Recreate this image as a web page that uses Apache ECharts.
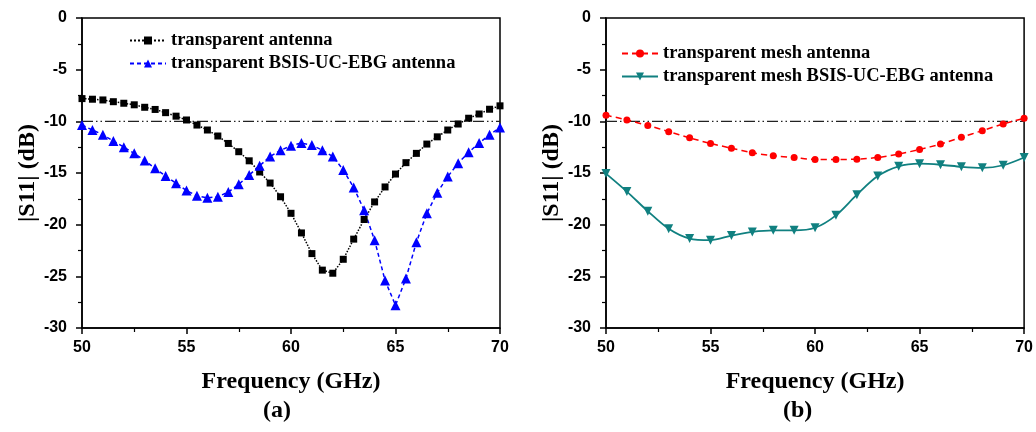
<!DOCTYPE html>
<html>
<head>
<meta charset="utf-8">
<script src="https://cdn.jsdelivr.net/npm/echarts@6/dist/echarts.min.js"></script>
<style>
html, body { margin: 0; padding: 0; background: #fff; }
#main { width: 1036px; height: 432px; }
</style>
</head>
<body>
<div id="main"></div>
<script>
// frequency points (GHz)
var freq_a = [50, 50.5, 51, 51.5, 52, 52.5, 53, 53.5, 54, 54.5, 55, 55.5, 56, 56.5, 57, 57.5, 58, 58.5, 59, 59.5,
	60, 60.5, 61, 61.5, 62, 62.5, 63, 63.5, 64, 64.5, 65, 65.5, 66, 66.5, 67, 67.5, 68, 68.5, 69, 69.5, 70];
var freq_b = [50, 51, 52, 53, 54, 55, 56, 57, 58, 59, 60, 61, 62, 63, 64, 65, 66, 67, 68, 69, 70];

// |S11| (dB)
var trans_ant = [-7.8, -7.86, -7.93, -8.1, -8.25, -8.4, -8.64, -8.85, -9.16, -9.5, -9.87, -10.36, -10.84, -11.42, -12.14, -12.94, -13.82, -14.9, -15.97, -17.3,
	-18.9, -20.8, -22.8, -24.4, -24.7, -23.35, -21.4, -19.5, -17.8, -16.35, -15.1, -14.0, -13.1, -12.2, -11.5, -10.84, -10.26, -9.7, -9.29, -8.83, -8.5];
var trans_ebg = [-10.36, -10.84, -11.3, -11.9, -12.5, -13.1, -13.8, -14.55, -15.3, -16.0, -16.7, -17.2, -17.4, -17.3, -16.85, -16.1, -15.2, -14.3, -13.4, -12.8,
	-12.36, -12.1, -12.3, -12.8, -13.4, -14.7, -16.4, -18.6, -21.5, -25.4, -27.8, -25.2, -21.7, -18.9, -16.9, -15.35, -14.05, -13.0, -12.1, -11.3, -10.6];
var mesh_ant = [-9.4, -9.87, -10.4, -11.0, -11.6, -12.14, -12.6, -13.04, -13.33, -13.5, -13.69, -13.69, -13.66, -13.5, -13.17, -12.72, -12.2, -11.55, -10.9, -10.26, -9.7];
var mesh_ebg = [-15.06, -16.8, -18.7, -20.4, -21.35, -21.5, -21.06, -20.7, -20.55, -20.55, -20.3, -19.1, -17.1, -15.3, -14.35, -14.1, -14.2, -14.4, -14.5, -14.25, -13.5];

var x_ticks = [50, 55, 60, 65, 70];
var y_ticks = [0, -5, -10, -15, -20, -25, -30];
var ref_level = -10;

function pairs(xs, ys) {
	var out = [];
	for (var i = 0; i < xs.length; i++) {
		out.push([xs[i], ys[i]]);
	}
	return out;
}

var serif = 'Liberation Serif';
var sans = 'Liberation Sans';

function makeX(idx) {
	return {
		gridIndex: idx,
		type: 'value',
		min: x_ticks[0],
		max: x_ticks[x_ticks.length - 1],
		interval: 5,
		name: 'Frequency (GHz)',
		nameLocation: 'middle',
		nameGap: 42,
		nameTextStyle: {fontFamily: serif, fontWeight: 'bold', fontSize: 24, color: '#000'},
		axisLine: {onZero: false, lineStyle: {color: '#000', width: 1.5}},
		axisTick: {show: true, inside: false, length: 6, lineStyle: {color: '#000', width: 1.5}},
		minorTick: {show: true, splitNumber: 2, length: 4, lineStyle: {color: '#000', width: 1.2}},
		axisLabel: {fontFamily: sans, fontWeight: 'bold', fontSize: 16, color: '#000', margin: 12},
		splitLine: {show: false}
	};
}

function makeY(idx) {
	return {
		gridIndex: idx,
		type: 'value',
		min: y_ticks[y_ticks.length - 1],
		max: y_ticks[0],
		interval: 5,
		name: '|S11| (dB)',
		nameLocation: 'middle',
		nameGap: 42,
		nameTextStyle: {fontFamily: serif, fontWeight: 'bold', fontSize: 24, color: '#000'},
		axisLine: {onZero: false, lineStyle: {color: '#000', width: 1.5}},
		axisTick: {show: true, inside: false, length: 6, lineStyle: {color: '#000', width: 1.5}},
		minorTick: {show: true, splitNumber: 2, length: 4, lineStyle: {color: '#000', width: 1.2}},
		axisLabel: {fontFamily: sans, fontWeight: 'bold', fontSize: 16, color: '#000', margin: 15},
		splitLine: {show: false}
	};
}

// -10 dB reference line, dash-dot-dot
function refLine(idx) {
	return {
		type: 'line',
		xAxisIndex: idx,
		yAxisIndex: idx,
		data: [[x_ticks[0], ref_level], [x_ticks[x_ticks.length - 1], ref_level]],
		symbol: 'none',
		silent: true,
		lineStyle: {color: '#222', width: 1.2, type: [11, 3, 1.5, 3, 1.5, 3]},
		z: 1
	};
}

var legendText = {fontFamily: serif, fontWeight: 'bold', fontSize: 18.5, color: '#000'};

var option = {
	animation: false,
	backgroundColor: '#fff',
	grid: [
		{left: 82, top: 18, width: 418, height: 310, show: true, borderColor: '#000', borderWidth: 1.5},
		{left: 606, top: 18, width: 419, height: 310, show: true, borderColor: '#000', borderWidth: 1.5}
	],
	xAxis: [makeX(0), makeX(1)],
	yAxis: [makeY(0), makeY(1)],
	legend: [
		{
			data: ['transparent antenna', 'transparent BSIS-UC-EBG antenna'],
			orient: 'vertical', left: 124, top: 26, itemGap: 4, itemWidth: 36, itemHeight: 10,
			textStyle: legendText
		},
		{
			data: ['transparent mesh antenna', 'transparent mesh BSIS-UC-EBG antenna'],
			orient: 'vertical', left: 616, top: 39, itemGap: 4, itemWidth: 36, itemHeight: 10,
			textStyle: legendText
		}
	],
	graphic: [
		{type: 'text', left: 263, top: 399, style: {text: '(a)', font: 'bold 24px "Liberation Serif"', fill: '#000'}},
		{type: 'text', left: 783, top: 399, style: {text: '(b)', font: 'bold 24px "Liberation Serif"', fill: '#000'}}
	],
	series: [
		refLine(0),
		refLine(1),
		{
			name: 'transparent antenna',
			type: 'line',
			xAxisIndex: 0, yAxisIndex: 0,
			data: pairs(freq_a, trans_ant),
			symbol: 'rect', symbolSize: 7,
			itemStyle: {color: '#000'},
			lineStyle: {color: '#000', width: 1.5, type: 'dotted'}
		},
		{
			name: 'transparent BSIS-UC-EBG antenna',
			type: 'line',
			xAxisIndex: 0, yAxisIndex: 0,
			data: pairs(freq_a, trans_ebg),
			symbol: 'triangle', symbolSize: 10,
			itemStyle: {color: '#0000ff'},
			lineStyle: {color: '#0000ff', width: 1.5, type: [4, 3]}
		},
		{
			name: 'transparent mesh antenna',
			type: 'line',
			xAxisIndex: 1, yAxisIndex: 1,
			data: pairs(freq_b, mesh_ant),
			smooth: 0.3,
			symbol: 'circle', symbolSize: 7,
			itemStyle: {color: '#ff0000'},
			lineStyle: {color: '#ff0000', width: 1.5, type: [6, 4]}
		},
		{
			name: 'transparent mesh BSIS-UC-EBG antenna',
			type: 'line',
			xAxisIndex: 1, yAxisIndex: 1,
			data: pairs(freq_b, mesh_ebg),
			smooth: 0.3,
			symbol: 'triangle', symbolRotate: 180, symbolSize: 9,
			itemStyle: {color: '#108080'},
			lineStyle: {color: '#108080', width: 1.8}
		}
	]
};

var chart = echarts.init(document.getElementById('main'));
chart.setOption(option);
</script>
</body>
</html>
